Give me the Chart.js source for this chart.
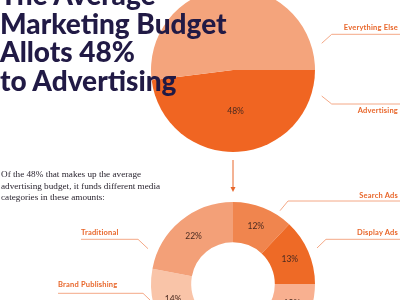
<!DOCTYPE html>
<html>
<head>
<meta charset="utf-8">
<script src="https://cdn.jsdelivr.net/npm/chart.js@4"></script>
<style>
  html, body { margin: 0; padding: 0; background: #fff; }
  #wrap { position: relative; width: 400px; height: 300px; overflow: hidden; background: #fff; }
  canvas { position: absolute; }
  #pie { left: 143px; top: -20px; }
  #donut { left: 143px; top: 194px; }
  svg { position: absolute; left: 0; top: 0; }
  .title {
    position: absolute; left: 0; top: -20px; z-index: 3;
    font-family: Lato, sans-serif; font-weight: 900; font-size: 28px;
    line-height: 28.5px; color: #211a45; white-space: nowrap;
  }
  .para {
    position: absolute; left: 1px; top: 169px; z-index: 3;
    font-family: "Liberation Serif", serif; font-size: 9.2px; line-height: 11.7px;
    color: #2a2530; white-space: nowrap;
  }
  .cat {
    position: absolute; z-index: 3; font-family: Lato, sans-serif; font-weight: 700;
    font-size: 7.5px; color: #e8662a; white-space: nowrap; letter-spacing: 0.2px;
  }
  .r { right: 2px; }
</style>
</head>
<body>
<div id="wrap">
  <canvas id="pie" width="180" height="180"></canvas>
  <canvas id="donut" width="180" height="180"></canvas>
  <svg width="400" height="300">
    <g fill="none" stroke="#f4a886" stroke-width="1">
      <polyline points="321.7,43.3 331.7,34.3 400,34.3"/>
      <polyline points="321.7,96 331.7,104 400,104"/>
      <polyline points="280,210.7 288,201 400,201"/>
      <polyline points="317,248 326,239.3 400,239.3"/>
      <polyline points="81,239.3 138,239.3 148,248.7"/>
      <polyline points="58,293.3 143,293.3 150,300"/>
    </g>
    <line x1="233" y1="160" x2="233" y2="188" stroke="#e8662a" stroke-width="1"/>
    <path d="M230.5,187 L235.5,187 L233,192 Z" fill="#e8662a"/>
  </svg>
  <div class="title">The Average<br>Marketing Budget<br>Allots 48%<br>to Advertising</div>
  <div class="para">Of the 48% that makes up the average<br>advertising budget, it funds different media<br>categories in these amounts:</div>
  <div class="cat r" style="top:23px">Everything Else</div>
  <div class="cat r" style="top:106px">Advertising</div>
  <div class="cat r" style="top:191px">Search Ads</div>
  <div class="cat r" style="top:228px">Display Ads</div>
  <div class="cat" style="left:81px;top:228px">Traditional</div>
  <div class="cat" style="left:58px;top:280px">Brand Publishing</div>
</div>
<script>
// top pie: share of the marketing budget
const budgetLabels = ["Advertising", "Everything Else"];
const budgetValues = [48, 52];
const budgetColors = ["#f06522", "#f4a47c"];

// donut: how the advertising share is split
const mediaLabels = ["Search Ads", "Display Ads", "Social Media", "Video", "Email", "Brand Publishing", "Traditional"];
const mediaValues = [12, 13, 10, 15, 14, 14, 22];
const mediaColors = ["#f0854e", "#ee6a26", "#f8b090", "#f39b70", "#ef7a40", "#f9c4a8", "#f3a078"];

const pctLabels = {
    id: "pctLabels",
    afterDatasetsDraw(chart, args, opts) {
        const ctx = chart.ctx;
        const meta = chart.getDatasetMeta(0);
        const values = chart.data.datasets[0].data;
        ctx.save();
        ctx.font = "8.5px Lato, sans-serif";
        ctx.fillStyle = "#4a2a20";
        ctx.textAlign = "center";
        ctx.textBaseline = "middle";
        meta.data.forEach((arc, i) => {
            if (opts.only && !opts.only.includes(i)) return;
            const p = arc.tooltipPosition();
            ctx.fillText(values[i] + "%", p.x, p.y);
        });
        ctx.restore();
    }
};

function baseOptions(extra, labelOpts) {
    return Object.assign({
        responsive: false,
        animation: false,
        layout: { padding: 8 },
        plugins: {
            legend: { display: false },
            tooltip: { enabled: false },
            pctLabels: labelOpts
        },
        events: []
    }, extra);
}

new Chart(document.getElementById("pie"), {
    type: "pie",
    data: {
        labels: budgetLabels,
        datasets: [{
            data: budgetValues,
            backgroundColor: budgetColors,
            borderWidth: 0,
            hoverOffset: 0
        }]
    },
    options: baseOptions({ rotation: 90 }, { only: [0] }),
    plugins: [pctLabels]
});

new Chart(document.getElementById("donut"), {
    type: "doughnut",
    data: {
        labels: mediaLabels,
        datasets: [{
            data: mediaValues,
            backgroundColor: mediaColors,
            borderWidth: 0,
            hoverOffset: 0
        }]
    },
    options: baseOptions({ cutout: "51%" }, {}),
    plugins: [pctLabels]
});
</script>
</body>
</html>
